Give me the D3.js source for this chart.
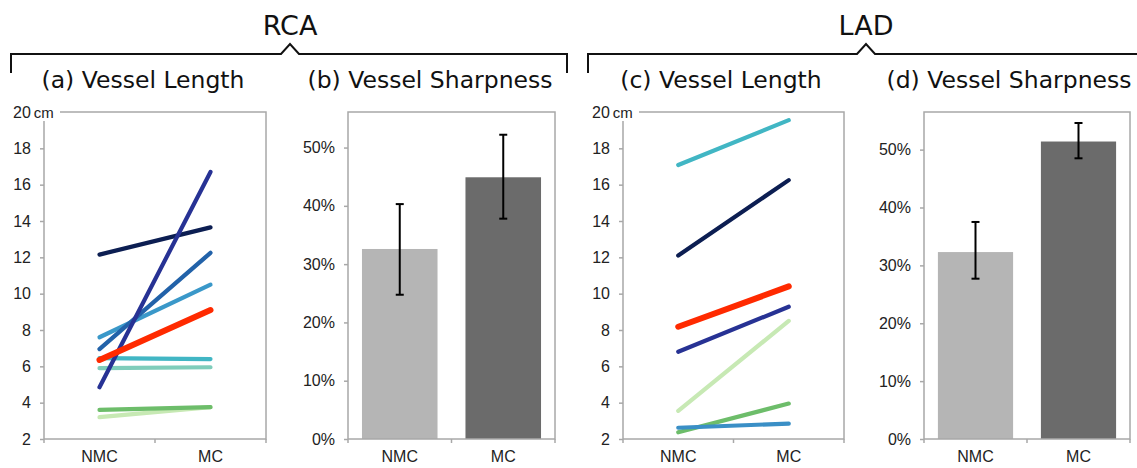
<!DOCTYPE html>
<html>
<head>
<meta charset="utf-8">
<script src="https://cdn.jsdelivr.net/npm/d3@7"></script>
<style>
  body { margin: 0; background: #fff; }
  svg { display: block; }
</style>
</head>
<body>
<div id="chart"></div>
<script>
// ---- data ----
const categories = ['NMC', 'MC'];

// RCA vessel length (cm), one entry per subject
const rcaLengthNMC = [3.2, 3.6, 5.9, 6.45, 7.6, 6.95, 12.15, 4.85, 6.35];
const rcaLengthMC  = [3.75, 3.75, 5.95, 6.4, 10.5, 12.25, 13.65, 16.7, 9.1];

// LAD vessel length (cm)
const ladLengthNMC = [3.55, 2.37, 2.62, 17.08, 12.1, 6.8, 8.18];
const ladLengthMC  = [8.5, 3.95, 2.85, 19.55, 16.25, 9.28, 10.4];

const lengthTicks = [2, 4, 6, 8, 10, 12, 14, 16, 18, 20];

// vessel sharpness (fraction), mean with error bar bounds
const rcaSharpMean = [0.326, 0.449];
const rcaSharpLow  = [0.2475, 0.378];
const rcaSharpHigh = [0.403, 0.522];
const ladSharpMean = [0.323, 0.514];
const ladSharpLow  = [0.277, 0.485];
const ladSharpHigh = [0.375, 0.546];

const sharpTicks = [0, 0.1, 0.2, 0.3, 0.4, 0.5];

// ---- styles ----
const rcaColors = ['#c7e9b4', '#6dbd6a', '#7fcdbb', '#41b6c4', '#3a98c9', '#2262a9', '#0c1e52', '#273294', '#ff2a00'];
const ladColors = ['#c7e9b4', '#6dbd6a', '#3a8fc6', '#41b6c4', '#0c1e52', '#273294', '#ff2a00'];
const barColors = ['#b5b5b5', '#6b6b6b'];

const width = 1137, height = 468;
const plotTop = 112, plotBottom = 439;
const tickFont = 16;

const svg = d3.select('#chart').append('svg')
  .attr('width', width)
  .attr('height', height)
  .attr('font-family', '"Liberation Sans", Arial, sans-serif');

// group headers with braces
function brace(x0, x1, peak, label) {
  const yl = 54, yEnd = 73;
  svg.append('path')
    .attr('d', `M${x0},${yEnd}V${yl}H${peak - 9}L${peak},${yl - 10}L${peak + 9},${yl}H${x1}` + (x1 < width ? `V${yEnd}` : ''))
    .attr('fill', 'none')
    .attr('stroke', '#111')
    .attr('stroke-width', 2);
  svg.append('text')
    .attr('x', peak)
    .attr('y', 35)
    .attr('text-anchor', 'middle')
    .attr('font-family', '"DejaVu Sans", sans-serif')
    .attr('font-size', 27)
    .attr('fill', '#111')
    .text(label);
}
brace(11, 567, 290, 'RCA');
brace(588, 1145, 866, 'LAD');

function subtitle(x, label) {
  svg.append('text')
    .attr('x', x)
    .attr('y', 88)
    .attr('text-anchor', 'middle')
    .attr('font-family', '"DejaVu Sans", sans-serif')
    .attr('font-size', 23.5)
    .attr('fill', '#111')
    .text(label);
}

function frame(g, x0, x1) {
  g.append('rect')
    .attr('x', x0)
    .attr('y', plotTop)
    .attr('width', x1 - x0)
    .attr('height', plotBottom - plotTop)
    .attr('fill', 'none')
    .attr('stroke', '#a8a8a8')
    .attr('stroke-width', 1.5);
}

function xAxis(g, x) {
  const ax = g.append('g')
    .attr('transform', `translate(0,${plotBottom})`)
    .call(d3.axisBottom(x).tickSize(0).tickPadding(12));
  ax.select('.domain').remove();
  ax.selectAll('text').attr('font-size', tickFont).attr('fill', '#222');
  // category boundary ticks
  const edges = [x.range()[0], ...categories.map(c => x(c) + x.step())];
  g.selectAll(null).data(edges).enter().append('line')
    .attr('x1', d => d).attr('x2', d => d)
    .attr('y1', plotBottom).attr('y2', plotBottom + 4)
    .attr('stroke', '#a8a8a8').attr('stroke-width', 1.5);
}

function yAxis(g, y, x0, ticks, fmt) {
  const ax = g.append('g')
    .attr('transform', `translate(${x0},0)`)
    .call(d3.axisLeft(y).tickValues(ticks).tickSize(4).tickPadding(9).tickFormat(fmt));
  ax.select('.domain').remove();
  ax.selectAll('line').attr('stroke', '#a8a8a8').attr('stroke-width', 1.5);
  ax.selectAll('text').attr('font-size', tickFont).attr('fill', '#222');
  return ax;
}

function linePanel(x0, x1, nmc, mc, colors, title, titleX) {
  const g = svg.append('g');
  const x = d3.scaleBand().domain(categories).range([x0, x1]);
  const y = d3.scaleLinear().domain([2, 20]).range([plotBottom, plotTop]);
  frame(g, x0, x1);
  xAxis(g, x);
  yAxis(g, y, x0, lengthTicks, d => d === 20 ? '' : d);
  // "20 cm" label sitting over the frame corner
  const lab = g.append('g');
  lab.append('rect')
    .attr('x', x0 - 32).attr('y', y(20) - 10)
    .attr('width', 48).attr('height', 19)
    .attr('fill', '#fff');
  const t = lab.append('text')
    .attr('x', x0 - 31).attr('y', y(20) + 6)
    .attr('font-size', tickFont).attr('fill', '#222');
  t.append('tspan').text('20');
  t.append('tspan').attr('dx', 3).attr('font-size', 15).text('cm');

  const rows = nmc.map((v, i) => ({ a: v, b: mc[i], i }));
  g.selectAll(null).data(rows).enter().append('line')
    .attr('x1', x('NMC') + x.bandwidth() / 2)
    .attr('x2', x('MC') + x.bandwidth() / 2)
    .attr('y1', d => y(d.a))
    .attr('y2', d => y(d.b))
    .attr('stroke', d => colors[d.i])
    .attr('stroke-width', d => colors[d.i] === '#ff2a00' ? 6 : 4.2)
    .attr('stroke-linecap', 'round');
  subtitle(titleX, title);
}

function barPanel(x0, x1, yMax, mean, low, high, title, titleX) {
  const g = svg.append('g');
  const x = d3.scaleBand().domain(categories).range([x0, x1]).paddingInner(0.27).paddingOuter(0.135);
  const y = d3.scaleLinear().domain([0, yMax]).range([plotBottom, plotTop]);
  const rows = categories.map((c, i) => ({ c, m: mean[i], lo: low[i], hi: high[i], i }));
  g.selectAll(null).data(rows).enter().append('rect')
    .attr('x', d => x(d.c))
    .attr('y', d => y(d.m))
    .attr('width', x.bandwidth())
    .attr('height', d => plotBottom - y(d.m))
    .attr('fill', d => barColors[d.i]);
  frame(g, x0, x1);
  xAxis(g, d3.scaleBand().domain(categories).range([x0, x1]));
  yAxis(g, y, x0, sharpTicks, d3.format('.0%'));
  const cx = d => x(d.c) + x.bandwidth() / 2;
  const eb = g.selectAll(null).data(rows).enter().append('g')
    .attr('stroke', '#000').attr('stroke-width', 2);
  eb.append('line').attr('x1', cx).attr('x2', cx).attr('y1', d => y(d.lo)).attr('y2', d => y(d.hi));
  eb.append('line').attr('x1', d => cx(d) - 4).attr('x2', d => cx(d) + 4).attr('y1', d => y(d.lo)).attr('y2', d => y(d.lo));
  eb.append('line').attr('x1', d => cx(d) - 4).attr('x2', d => cx(d) + 4).attr('y1', d => y(d.hi)).attr('y2', d => y(d.hi));
  subtitle(titleX, title);
}

linePanel(44, 266, rcaLengthNMC, rcaLengthMC, rcaColors, '(a) Vessel Length', 143);
barPanel(348, 555, 0.561, rcaSharpMean, rcaSharpLow, rcaSharpHigh, '(b) Vessel Sharpness', 430);
linePanel(623, 844, ladLengthNMC, ladLengthMC, ladColors, '(c) Vessel Length', 721);
barPanel(924, 1130, 0.565, ladSharpMean, ladSharpLow, ladSharpHigh, '(d) Vessel Sharpness', 1009);
</script>
</body>
</html>
